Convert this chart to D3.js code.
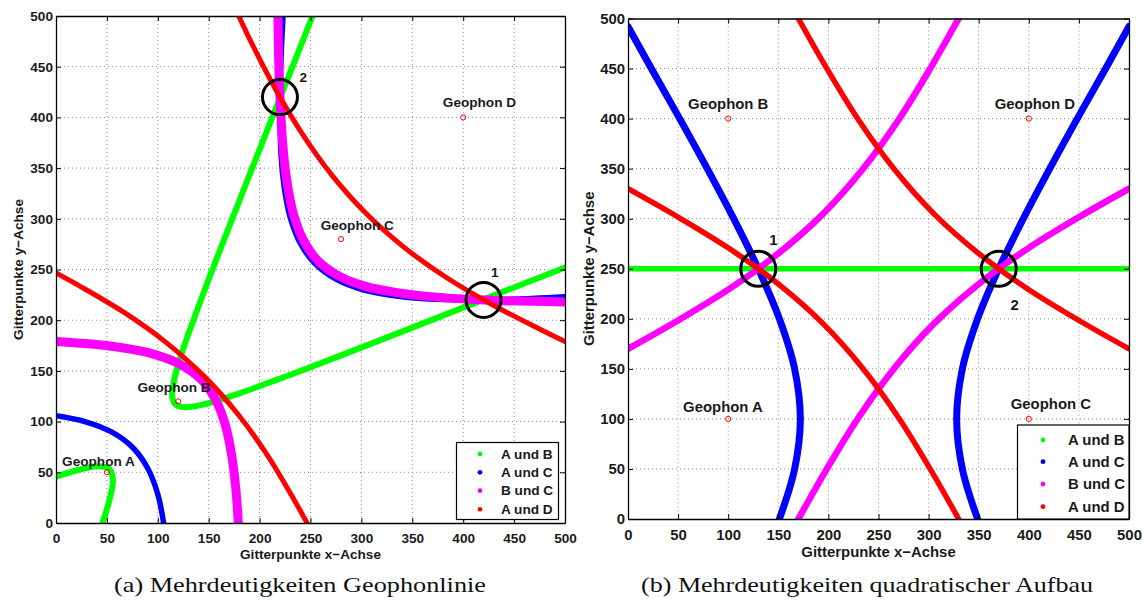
<!DOCTYPE html>
<html>
<head>
<meta charset="utf-8">
<script src="https://cdnjs.cloudflare.com/ajax/libs/d3/7.8.5/d3.min.js"></script>
<style>
  body { margin: 0; background: #fff; }
  svg { display: block; }
</style>
</head>
<body>
<div id="chart"></div>
<script>
// axis ticks (both axes, both panels)
var ticks = [0, 50, 100, 150, 200, 250, 300, 350, 400, 450, 500];
var seriesNames = ["A und B", "A und C", "B und C", "A und D"];

// ---- (a) Geophonlinie ----
var geoNamesA = ["Geophon A", "Geophon B", "Geophon C", "Geophon D"];
var geoXA = [50, 120, 280, 400];
var geoYA = [50, 120, 280, 400];
var geoLabelXA = [6, 80, 260, 380];
var geoLabelYA = [56, 129, 289, 410];
var hitXA = [420, 220], hitYA = [220, 420];
var hitNamesA = ["1", "2"];
var hitLabelXA = [431, 243], hitLabelYA = [243, 435];

var abA = [
  [[0,45.5],[4.7,47.2],[24.8,53],[41.8,55.9],[52.8,52.8],[55.9,41.8],[53,24.8],[47.2,4.7],[45.5,0]],
  [[252,500],[237.9,464.2],[200.8,370.5],[164.3,277.5],[146.7,231.6],[130.2,186.8],[122.8,165.3],[117,145.2],[114.1,128.2],[114.7,121.7],
   [117.2,117.2],[121.7,114.7],[128.2,114.1],[145.2,117],[165.3,122.8],[186.8,130.2],[231.6,146.7],[277.5,164.3],[370.5,200.8],[464.2,237.9],[500,252]]
];
var acA = [
  [[0,105.7],[29.1,99.8],[54.5,89.8],[74.9,74.9],[89.8,54.5],[99.8,29.1],[105.7,0]],
  [[223,500],[220.3,432.4],[221.1,362.6],[224.3,330.3],[230.2,300.9],[240.2,275.5],[255.1,255.1],
   [275.5,240.2],[300.9,230.2],[330.3,224.3],[362.6,221.1],[432.4,220.3],[500,223.2]]
];
var bcA = [
  [[0,179.1],[35.1,176.5],[66.6,172.6],[95.8,166.6],[121.4,156.8],[142.1,142.1],[156.8,121.4],[166.6,95.8],[172.6,66.6],[176.5,35.1],[179.1,0]],
  [[218,500],[219.5,431.6],[223.5,364.9],[227.4,333.4],[233.4,304.2],[243.2,278.6],[257.9,257.9],
   [278.6,243.2],[304.2,233.4],[333.4,227.4],[364.9,223.5],[431.6,219.5],[500,218]]
];
var adA = [
  [[0,246.6],[22.2,234.3],[66.5,207.9],[107.7,178.4],[145.1,145.1],[178.4,107.7],[207.9,66.5],[234.3,22.2],[246.6,0]],
  [[179.5,500],[191.6,474.4],[215.7,427.8],[242.1,383.5],[271.6,342.3],[304.9,304.9],
   [342.3,271.6],[383.5,242.1],[427.8,215.7],[474.4,191.6],[500,179]]
];

// ---- (b) quadratischer Aufbau ----
var geoNamesB = ["Geophon A", "Geophon B", "Geophon C", "Geophon D"];
var geoXB = [100, 100, 400, 400];
var geoYB = [100, 400, 100, 400];
var geoLabelXB = [55, 60, 382, 366];
var geoLabelYB = [107, 410, 110, 410];
var hitXB = [130, 370], hitYB = [250, 250];
var hitNamesB = ["1", "2"];
var hitLabelXB = [145, 386], hitLabelYB = [274, 209];

var abB = [
  [[0,250],[500,250]]
];
var acB = [
  [[0,492],[23.3,450],[51.6,400],[79.1,350],[105.5,300],[130,250],[151.1,200],[166.3,150],[172,100],[166.3,50],[151.1,0]],
  [[500,492],[476.7,450],[448.4,400],[420.9,350],[394.5,300],[370,250],[348.9,200],[333.7,150],[328,100],[333.7,50],[348.9,0]]
];
var bcB = [
  [[0,170],[48.1,197.3],[100.7,229.6],[149.9,265.2],[194.9,305.1],[234.8,350.1],[270.4,399.3],[302.7,451.9],[330,500]],
  [[170,0],[197.3,48.1],[229.6,100.7],[265.2,149.9],[305.1,194.9],[350.1,234.8],[399.3,270.4],[451.9,302.7],[500,330]]
];
var adB = [
  [[330,0],[302.7,48.1],[270.4,100.7],[234.8,149.9],[194.9,194.9],[149.9,234.8],[100.7,270.4],[48.1,302.7],[0,330]],
  [[500,170],[451.9,197.3],[399.3,229.6],[350.1,265.2],[305.1,305.1],[265.2,350.1],[229.6,399.3],[197.3,451.9],[170,500]]
];

var colors = ["#00ff00", "#0000ff", "#ff00ff", "#ff0000"];
var fontFam = "'Liberation Sans', Arial, Helvetica, sans-serif";

var svg = d3.select("#chart").append("svg")
    .attr("width", 1143)
    .attr("height", 605);

drawPanel({
  id: "a", left: 56, right: 565, top: 16, bottom: 523, fs: 13.6,
  xPad: 10, yPad: 3, xLabelY: 559, yLabelX: 23,
  widths: [6, 5.5, 9, 5], hitR: 17.5,
  legend: {x0: 456.5, x1: 558.5, y0: 442.5, y1: 519.5, mx: 480, tx: 501, rows: [454, 472.3, 490.7, 509.3]},
  caption: "(a) Mehrdeutigkeiten Geophonlinie", capX: 300, capW: 372
}, [abA, acA, bcA, adA], geoNamesA, geoXA, geoYA, geoLabelXA, geoLabelYA,
   hitXA, hitYA, hitNamesA, hitLabelXA, hitLabelYA);

drawPanel({
  id: "b", left: 628, right: 1129, top: 18.5, bottom: 519, fs: 14.9,
  xPad: 10.5, yPad: 3, xLabelY: 556.5, yLabelX: 594,
  widths: [5.5, 7, 6.5, 5.5], hitR: 17.5,
  legend: {x0: 1017.5, x1: 1129, y0: 425, y1: 519, mx: 1043, tx: 1068, rows: [440, 461.7, 484, 506.7]},
  caption: "(b) Mehrdeutigkeiten quadratischer Aufbau", capX: 867, capW: 452
}, [abB, acB, bcB, adB], geoNamesB, geoXB, geoYB, geoLabelXB, geoLabelYB,
   hitXB, hitYB, hitNamesB, hitLabelXB, hitLabelYB);

function drawPanel(cfg, curves, gNames, gX, gY, gLX, gLY, hX, hY, hNames, hLX, hLY) {

  var x = d3.scaleLinear().domain([0, 500]).range([cfg.left, cfg.right]),
      y = d3.scaleLinear().domain([0, 500]).range([cfg.bottom, cfg.top]);

  var g = svg.append("g").attr("class", "panel-" + cfg.id);

  g.append("clipPath").attr("id", "clip-" + cfg.id)
    .append("rect")
      .attr("x", cfg.left).attr("y", cfg.top)
      .attr("width", cfg.right - cfg.left)
      .attr("height", cfg.bottom - cfg.top);

  // dotted grid
  var inner = ticks.slice(1, -1);
  g.selectAll("line.gx").data(inner).enter().append("line")
      .attr("class", "gx")
      .attr("x1", function(d){ return x(d); }).attr("x2", function(d){ return x(d); })
      .attr("y1", cfg.top).attr("y2", cfg.bottom)
      .style("stroke", "#8a8a8a").style("stroke-width", 1)
      .style("stroke-dasharray", "1,3");
  g.selectAll("line.gy").data(inner).enter().append("line")
      .attr("class", "gy")
      .attr("y1", function(d){ return y(d); }).attr("y2", function(d){ return y(d); })
      .attr("x1", cfg.left).attr("x2", cfg.right)
      .style("stroke", "#8a8a8a").style("stroke-width", 1)
      .style("stroke-dasharray", "1,3");

  // hyperbola branches
  var line = d3.line()
      .x(function(d){ return x(d[0]); })
      .y(function(d){ return y(d[1]); })
      .curve(d3.curveCatmullRom.alpha(0.5));

  var cg = g.append("g").attr("clip-path", "url(#clip-" + cfg.id + ")");
  curves.forEach(function(branches, i){
    cg.selectAll("path.s" + i).data(branches).enter().append("path")
        .attr("class", "s" + i)
        .attr("d", line)
        .style("fill", "none")
        .style("stroke", colors[i])
        .style("stroke-width", cfg.widths[i])
        .style("stroke-linecap", "round")
        .style("stroke-linejoin", "round");
  });

  // geophones
  g.selectAll("circle.geo").data(gNames).enter().append("circle")
      .attr("class", "geo")
      .attr("cx", function(d, i){ return x(gX[i]); })
      .attr("cy", function(d, i){ return y(gY[i]); })
      .attr("r", 2.6)
      .style("fill", "none").style("stroke", "#ff0000").style("stroke-width", 1);
  g.selectAll("text.geo").data(gNames).enter().append("text")
      .attr("class", "geo")
      .attr("x", function(d, i){ return x(gLX[i]); })
      .attr("y", function(d, i){ return y(gLY[i]); })
      .style("font-family", fontFam).style("font-weight", "bold")
      .style("font-size", cfg.fs + "px").style("fill", "#1a1a1a")
      .text(function(d){ return d; });

  // ambiguity circles
  g.selectAll("circle.hit").data(hNames).enter().append("circle")
      .attr("class", "hit")
      .attr("cx", function(d, i){ return x(hX[i]); })
      .attr("cy", function(d, i){ return y(hY[i]); })
      .attr("r", cfg.hitR)
      .style("fill", "none").style("stroke", "#000").style("stroke-width", 3);
  g.selectAll("text.hit").data(hNames).enter().append("text")
      .attr("class", "hit")
      .attr("x", function(d, i){ return x(hLX[i]); })
      .attr("y", function(d, i){ return y(hLY[i]); })
      .attr("text-anchor", "middle")
      .style("font-family", fontFam).style("font-weight", "bold")
      .style("font-size", cfg.fs + "px").style("fill", "#1a1a1a")
      .text(function(d){ return d; });

  // axes, box with inward ticks on every side
  var axB = g.append("g").attr("transform", "translate(0," + cfg.bottom + ")")
      .call(d3.axisBottom(x).tickValues(ticks).tickSizeInner(-5).tickSizeOuter(0).tickPadding(cfg.xPad));
  var axL = g.append("g").attr("transform", "translate(" + cfg.left + ",0)")
      .call(d3.axisLeft(y).tickValues(ticks).tickSizeInner(-5).tickSizeOuter(0).tickPadding(cfg.yPad));
  var axT = g.append("g").attr("transform", "translate(0," + cfg.top + ")")
      .call(d3.axisTop(x).tickValues(ticks).tickSizeInner(-5).tickSizeOuter(0).tickFormat(""));
  var axR = g.append("g").attr("transform", "translate(" + cfg.right + ",0)")
      .call(d3.axisRight(y).tickValues(ticks).tickSizeInner(-5).tickSizeOuter(0).tickFormat(""));

  [axB, axL, axT, axR].forEach(function(ax){
    ax.select(".domain").style("stroke", "#000").style("stroke-width", 1.3);
    ax.selectAll(".tick line").style("stroke", "#000").style("stroke-width", 1);
    ax.selectAll("text")
      .style("font-family", fontFam).style("font-weight", "bold")
      .style("font-size", cfg.fs + "px").style("fill", "#1a1a1a");
  });

  // axis titles
  g.append("text")
      .attr("x", (cfg.left + cfg.right) / 2).attr("y", cfg.xLabelY)
      .attr("text-anchor", "middle")
      .style("font-family", fontFam).style("font-weight", "bold")
      .style("font-size", cfg.fs + "px").style("fill", "#1a1a1a")
      .text("Gitterpunkte x\u2212Achse");
  g.append("text")
      .attr("transform", "translate(" + cfg.yLabelX + "," + ((cfg.top + cfg.bottom) / 2) + ") rotate(-90)")
      .attr("text-anchor", "middle")
      .style("font-family", fontFam).style("font-weight", "bold")
      .style("font-size", cfg.fs + "px").style("fill", "#1a1a1a")
      .text("Gitterpunkte y\u2212Achse");

  // legend
  var L = cfg.legend;
  var lg = g.append("g").attr("class", "legend");
  lg.append("rect")
      .attr("x", L.x0).attr("y", L.y0)
      .attr("width", L.x1 - L.x0).attr("height", L.y1 - L.y0)
      .style("fill", "#fff").style("stroke", "#000").style("stroke-width", 1.2);
  lg.selectAll("circle").data(seriesNames).enter().append("circle")
      .attr("cx", L.mx)
      .attr("cy", function(d, i){ return L.rows[i]; })
      .attr("r", 2.4)
      .style("fill", function(d, i){ return colors[i]; });
  lg.selectAll("text").data(seriesNames).enter().append("text")
      .attr("x", L.tx)
      .attr("y", function(d, i){ return L.rows[i]; })
      .attr("dy", "0.35em")
      .style("font-family", fontFam).style("font-weight", "bold")
      .style("font-size", cfg.fs + "px").style("fill", "#1a1a1a")
      .text(function(d){ return d; });

  // sub-figure caption
  g.append("text")
      .attr("x", cfg.capX).attr("y", 592)
      .attr("text-anchor", "middle")
      .attr("textLength", cfg.capW)
      .attr("lengthAdjust", "spacingAndGlyphs")
      .style("font-family", "'Liberation Serif', 'DejaVu Serif', serif")
      .style("font-size", "21px").style("fill", "#111")
      .text(cfg.caption);
}
</script>
</body>
</html>
